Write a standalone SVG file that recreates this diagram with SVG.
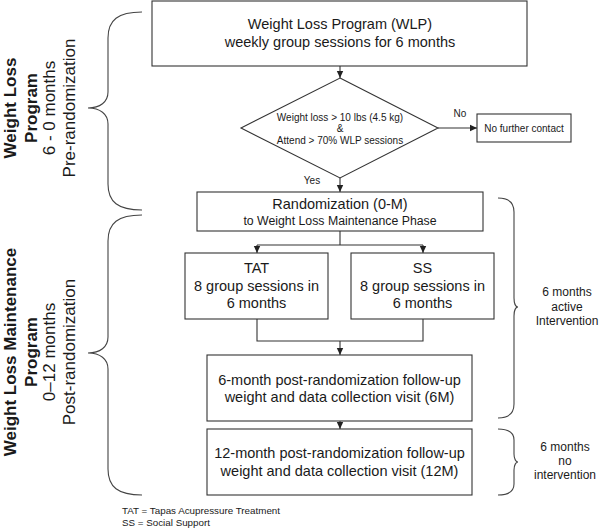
<svg xmlns="http://www.w3.org/2000/svg" width="600" height="528" viewBox="0 0 600 528">
<defs>
<style>
.box{fill:#fff;stroke:#333;stroke-width:1.1}
.ln{fill:none;stroke:#333;stroke-width:1.1}
.br{fill:none;stroke:#444;stroke-width:1.1}
text{font-family:"Liberation Sans",Arial,sans-serif;fill:#1a1a1a}
.t145{font-size:14.5px;text-anchor:middle}
.t10{font-size:10px;text-anchor:middle}
.t12{font-size:12px;text-anchor:middle}
.side{font-size:17px;text-anchor:middle}
.sideb{font-size:17px;font-weight:bold;text-anchor:middle}
</style>
<marker id="arr" markerWidth="8" markerHeight="8" refX="7" refY="4" orient="auto" markerUnits="userSpaceOnUse">
<path d="M0,0.8 L7,4 L0,7.2 z" fill="#222"/>
</marker>
</defs>
<rect width="600" height="528" fill="#fff"/>

<g id="connectors">
<path class="ln" d="M340,66 L340,78" marker-end="url(#arr)"/>
<path class="ln" d="M438,128 L477,128" marker-end="url(#arr)"/>
<path class="ln" d="M340,178 L340,192" marker-end="url(#arr)"/>
<path class="ln" d="M340,231 L340,245 M257,245 L423,245"/>
<path class="ln" d="M257,245 L257,253" marker-end="url(#arr)"/>
<path class="ln" d="M423,245 L423,253" marker-end="url(#arr)"/>
<path class="ln" d="M257,319 L257,341 L423,341 L423,319"/>
<path class="ln" d="M340,341 L340,355" marker-end="url(#arr)"/>
<path class="ln" d="M340,421 L340,429" marker-end="url(#arr)"/>
<text class="t10" x="460" y="117">No</text>
<text class="t10" x="312" y="184">Yes</text>
</g>

<g id="wlp">
<rect class="box" x="152" y="1" width="375" height="65"/>
<text class="t145" x="340" y="29">Weight Loss Program (WLP)</text>
<text class="t145" x="340" y="47">weekly group sessions for 6 months</text>
</g>

<g id="decision">
<polygon class="box" points="340,78 438,128 340,178 241,128"/>
<text class="t10" x="340" y="121">Weight loss &gt; 10 lbs (4.5 kg)</text>
<text class="t10" x="340" y="132">&amp;</text>
<text class="t10" x="340" y="144">Attend &gt; 70% WLP sessions</text>
</g>

<g id="nocontact">
<rect class="box" x="477" y="114" width="94" height="28"/>
<text class="t10" x="524" y="132">No further contact</text>
</g>

<g id="randomization">
<rect class="box" x="197" y="192" width="286" height="39"/>
<text class="t145" x="340" y="209">Randomization (0-M)</text>
<text class="t12" x="340" y="225" style="font-size:12.3px">to Weight Loss Maintenance Phase</text>
</g>

<g id="tat">
<rect class="box" x="185" y="253" width="143" height="66"/>
<text class="t145" x="256.5" y="273">TAT</text>
<text class="t145" x="256.5" y="291">8 group sessions in</text>
<text class="t145" x="256.5" y="308">6 months</text>
</g>

<g id="ss">
<rect class="box" x="351" y="253" width="143" height="66"/>
<text class="t145" x="422.5" y="273">SS</text>
<text class="t145" x="422.5" y="291">8 group sessions in</text>
<text class="t145" x="422.5" y="308">6 months</text>
</g>

<g id="followup6">
<rect class="box" x="207" y="355" width="265" height="66"/>
<text class="t145" x="339.5" y="385">6-month post-randomization follow-up</text>
<text class="t145" x="339.5" y="402">weight and data collection visit (6M)</text>
</g>

<g id="followup12">
<rect class="box" x="207" y="429" width="265" height="66"/>
<text class="t145" x="339.5" y="458">12-month post-randomization follow-up</text>
<text class="t145" x="339.5" y="476">weight and data collection visit (12M)</text>
</g>

<g id="brace-pre">
<path class="br" d="M142,12 C118,12 108,20 108,38 L108,92 C108,102 100,108 88,108 C100,108 108,114 108,124 L108,184 C108,202 118,210 142,210"/>
<text class="sideb" transform="translate(16,108) rotate(-90)">Weight Loss</text>
<text class="sideb" transform="translate(37,108) rotate(-90)">Program</text>
<text class="side" transform="translate(55,108) rotate(-90)">6 - 0 months</text>
<text class="side" transform="translate(75,108) rotate(-90)">Pre-randomization</text>
</g>

<g id="brace-post">
<path class="br" d="M142,215 C118,215 108,223 108,241 L108,337 C108,347 100,353 88,353 C100,353 108,359 108,369 L108,469 C108,487 118,495 142,495"/>
<text class="sideb" transform="translate(16,352) rotate(-90)">Weight Loss Maintenance</text>
<text class="sideb" transform="translate(37,352) rotate(-90)">Program</text>
<text class="side" transform="translate(55,352) rotate(-90)">0–12 months</text>
<text class="side" transform="translate(75,352) rotate(-90)">Post-randomization</text>
</g>

<g id="brace-active">
<path class="br" d="M498,198 C509,198 514,203 514,212 L514,298 C514,304 516,307 518,307 C516,307 514,310 514,316 L514,404 C514,413 509,418 498,418"/>
<text class="t12" x="567" y="296">6 months</text>
<text class="t12" x="567" y="311">active</text>
<text class="t12" x="567" y="325">Intervention</text>
</g>

<g id="brace-none">
<path class="br" d="M498,429 C509,429 514,433 514,440 L514,454 C514,459 516,462 518,462 C516,462 514,465 514,470 L514,484 C514,491 509,495 498,495"/>
<text class="t12" x="565" y="451">6 months</text>
<text class="t12" x="565" y="465">no</text>
<text class="t12" x="565" y="479">intervention</text>
</g>

<g id="legend">
<text x="122" y="514" style="font-size:9.8px">TAT = Tapas Acupressure Treatment</text>
<text x="122" y="526" style="font-size:9.8px">SS = Social Support</text>
</g>
</svg>
